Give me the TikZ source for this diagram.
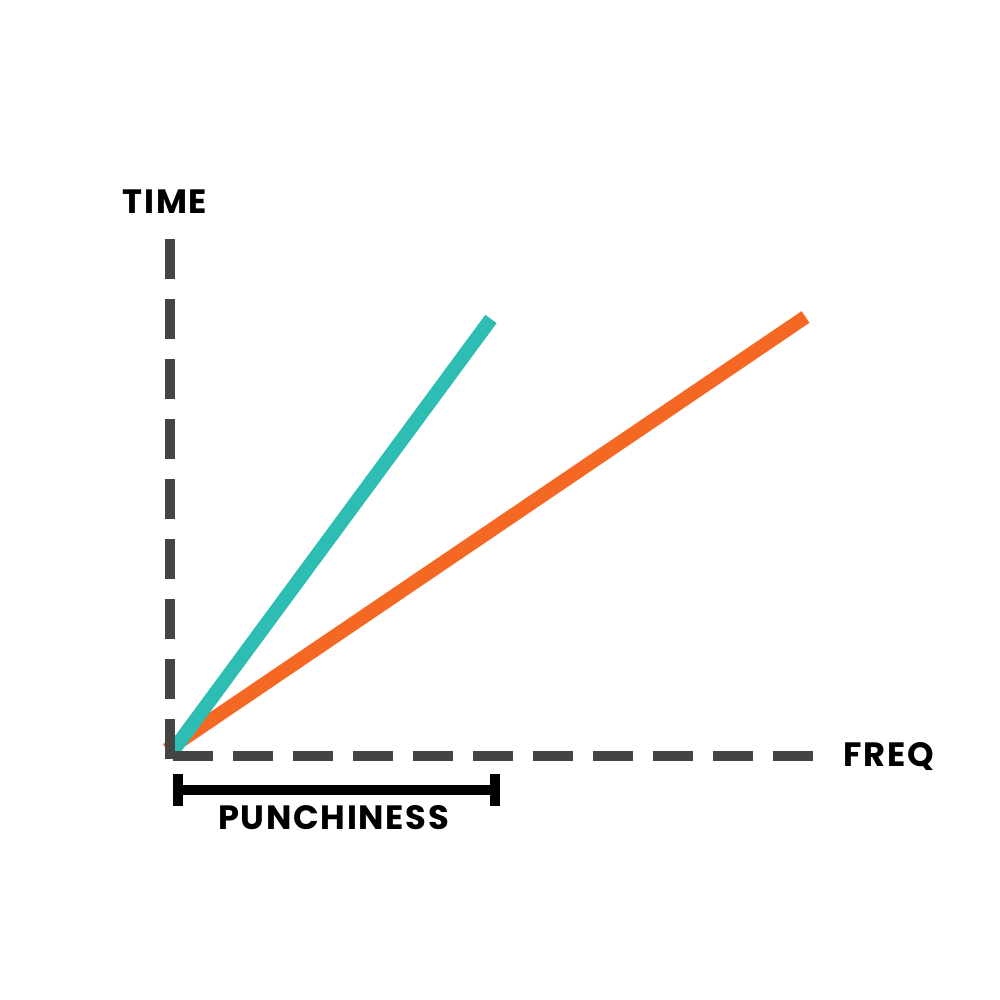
\documentclass[tikz,border=0pt]{standalone}
\usepackage{fontspec}
\setmainfont{Poppins}
\usepackage{xcolor}
\usetikzlibrary{positioning,calc}
\definecolor{axisgray}{RGB}{68,68,68}
\definecolor{tealline}{RGB}{46,189,179}
\definecolor{orangeline}{RGB}{244,104,36}
\tikzset{
  axis/.style={draw=axisgray,line width=2.85pt,dash pattern=on 0.4cm off 0.2cm},
  curve/.style={line width=4pt},
  bracket/.style={draw=black,line width=2.85pt},
  lbl/.style={font=\fontsize{9.6}{11}\selectfont\bfseries\addfontfeature{LetterSpace=5},inner sep=0pt,anchor=center}
}
\begin{document}
\begin{tikzpicture}
			\useasboundingbox (0,0) rectangle (10,10);
			
			\coordinate (O) at (1.70,2.44);
			\coordinate (ytop) at (1.70,7.61);
			\coordinate (ybot) at (1.70,2.39);
			\coordinate (xstart) at (1.73,2.44);
			\coordinate (xend) at (8.13,2.44);
			\coordinate (tealend) at (4.91,6.81);
			\coordinate (orangeend) at (8.055,6.83);
			
			% the two lines
			\draw[curve,orangeline] (1.67,2.50) -- (orangeend);
			\draw[curve,tealline] (1.72,2.48) -- (tealend);
			
			% axes
			\draw[axis] (ytop) -- (ybot);
			\draw[axis] (xstart) -- (xend);
			
			\node[lbl] (time) at (1.65,7.98) {TIME};
			\node[lbl] (freq) at (8.885,2.43) {FREQ};
			
			% punchiness bracket
			\coordinate (pl) at (1.78,2.10);
			\coordinate (pr) at (4.95,2.10);
			\draw[bracket] (pl) -- (pr);
			\draw[bracket] ($(pl)+(0,0.16)$) -- ($(pl)-(0,0.16)$);
			\draw[bracket] ($(pr)+(0,0.16)$) -- ($(pr)-(0,0.16)$);
			\node[lbl] (punch) at (3.335,1.82) {PUNCHINESS};
			
		\end{tikzpicture}
\end{document}
